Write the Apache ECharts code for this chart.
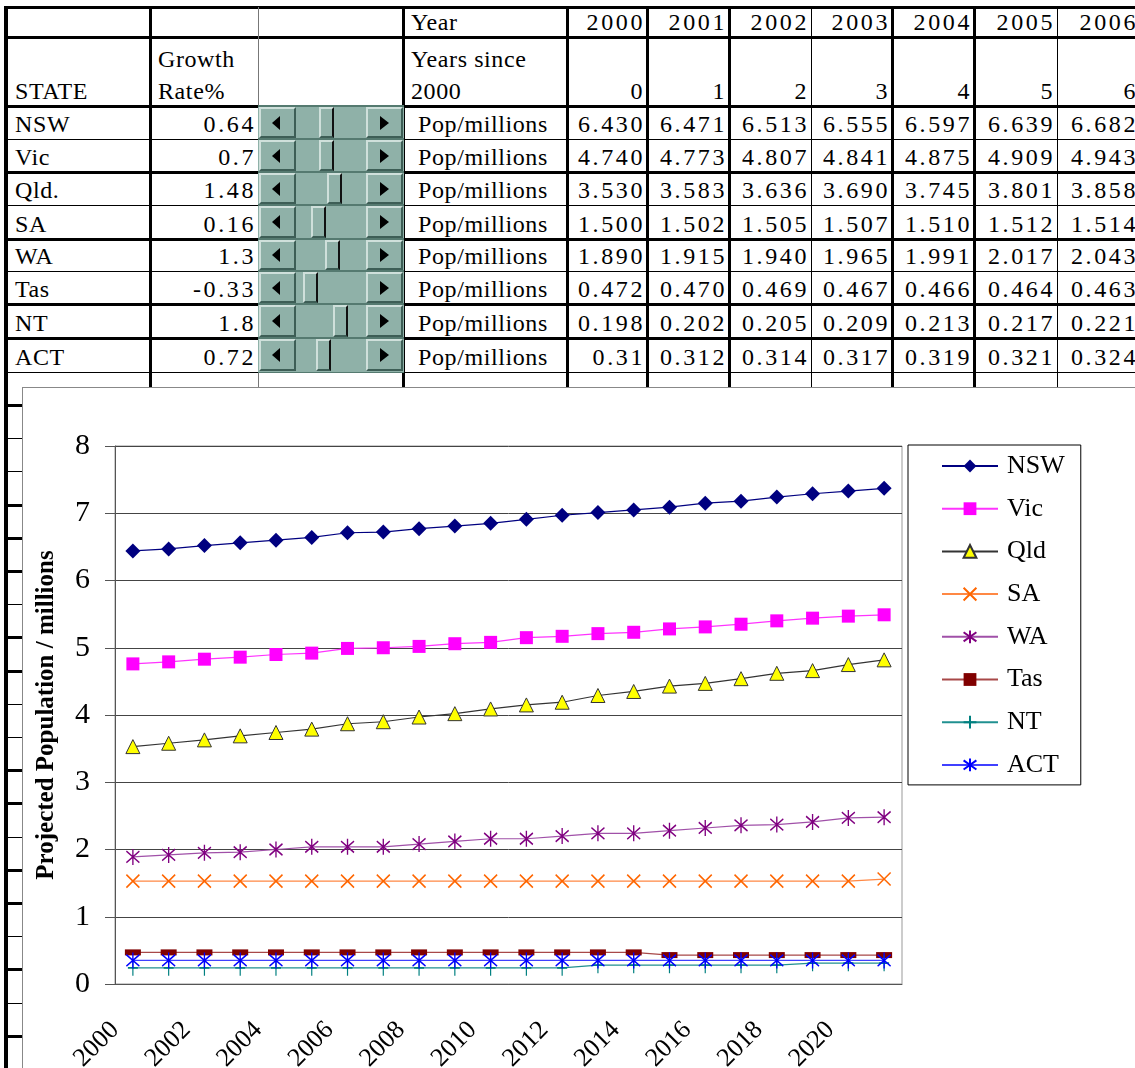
<!DOCTYPE html>
<html>
<head>
<meta charset="utf-8">
<script src="https://cdn.jsdelivr.net/npm/echarts@6/dist/echarts.min.js"></script>
<style>
body{margin:0;width:1135px;height:1068px;overflow:hidden;background:#fff;position:relative;font-family:'Liberation Serif','Times New Roman',serif;color:#000}
#sheet{position:absolute;left:0;top:0;width:1135px;height:1068px;overflow:hidden}
.ln{position:absolute;background:#000}
.cell{position:absolute;display:flex;align-items:flex-end;white-space:nowrap;line-height:24px;box-sizing:border-box;font-family:'Liberation Serif','Times New Roman',serif;font-size:24px;padding-bottom:3px}
.num{justify-content:flex-end;padding-right:2px;letter-spacing:2.6px}
.txt{padding-left:8px;letter-spacing:0.6px}
.sbx{position:absolute;box-sizing:border-box}
#chart{position:absolute;left:22px;top:387px;width:1140px;height:700px;border:1px solid #888;background:#fff}
</style>
</head>
<body>
<div id="sheet"></div>
<div id="chart"></div>
<script>
// ---- spreadsheet part ----
const states = ['NSW', 'Vic', 'Qld.', 'SA', 'WA', 'Tas', 'NT', 'ACT'];
const growthRate = ['0.64', '0.7', '1.48', '0.16', '1.3', '-0.33', '1.8', '0.72'];
const tableYears = ['2000', '2001', '2002', '2003', '2004', '2005', '2006'];
const yearsSince = ['0', '1', '2', '3', '4', '5', '6'];
const tablePop = [
  ['6.430', '6.471', '6.513', '6.555', '6.597', '6.639', '6.682'],
  ['4.740', '4.773', '4.807', '4.841', '4.875', '4.909', '4.943'],
  ['3.530', '3.583', '3.636', '3.690', '3.745', '3.801', '3.858'],
  ['1.500', '1.502', '1.505', '1.507', '1.510', '1.512', '1.514'],
  ['1.890', '1.915', '1.940', '1.965', '1.991', '2.017', '2.043'],
  ['0.472', '0.470', '0.469', '0.467', '0.466', '0.464', '0.463'],
  ['0.198', '0.202', '0.205', '0.209', '0.213', '0.217', '0.221'],
  ['0.31', '0.312', '0.314', '0.317', '0.319', '0.321', '0.324']
];

// ---- chart part ----
const years = ['2000', '2001', '2002', '2003', '2004', '2005', '2006', '2007', '2008', '2009', '2010',
  '2011', '2012', '2013', '2014', '2015', '2016', '2017', '2018', '2019', '2020', '2021'];
const yearTickLabels = ['2000', '', '2002', '', '2004', '', '2006', '', '2008', '', '2010', '',
  '2012', '', '2014', '', '2016', '', '2018', '', '2020', '', ''];
const nsw = [6.44, 6.47, 6.52, 6.56, 6.60, 6.64, 6.71, 6.72, 6.77, 6.81, 6.85, 6.91, 6.97, 7.01, 7.05, 7.09, 7.15, 7.18, 7.24, 7.29, 7.33, 7.37];
const vic = [4.76, 4.79, 4.83, 4.86, 4.90, 4.92, 4.99, 5.00, 5.02, 5.06, 5.08, 5.15, 5.17, 5.21, 5.23, 5.28, 5.31, 5.35, 5.40, 5.44, 5.47, 5.49];
const qld = [3.53, 3.58, 3.63, 3.69, 3.74, 3.79, 3.87, 3.90, 3.97, 4.02, 4.09, 4.15, 4.19, 4.29, 4.35, 4.43, 4.47, 4.54, 4.62, 4.66, 4.75, 4.82];
const sa = [1.53, 1.53, 1.53, 1.53, 1.53, 1.53, 1.53, 1.53, 1.53, 1.53, 1.53, 1.53, 1.53, 1.53, 1.53, 1.53, 1.53, 1.53, 1.53, 1.53, 1.53, 1.56];
const wa = [1.89, 1.92, 1.95, 1.96, 2.00, 2.04, 2.04, 2.04, 2.08, 2.12, 2.16, 2.16, 2.20, 2.24, 2.24, 2.28, 2.32, 2.36, 2.37, 2.41, 2.47, 2.48];
const tas = [0.47, 0.47, 0.47, 0.47, 0.47, 0.47, 0.47, 0.47, 0.47, 0.47, 0.47, 0.47, 0.47, 0.47, 0.47, 0.43, 0.43, 0.43, 0.43, 0.43, 0.43, 0.43];
const nt = [0.24, 0.24, 0.24, 0.24, 0.24, 0.24, 0.24, 0.24, 0.24, 0.24, 0.24, 0.24, 0.24, 0.28, 0.28, 0.28, 0.28, 0.28, 0.28, 0.31, 0.31, 0.31];
const act = [0.35, 0.35, 0.35, 0.35, 0.35, 0.35, 0.35, 0.35, 0.35, 0.35, 0.35, 0.35, 0.35, 0.35, 0.35, 0.35, 0.35, 0.35, 0.35, 0.35, 0.35, 0.35];

const sheet = document.getElementById('sheet');

// grid geometry of the sheet
const colX = [7, 150, 258, 403, 567, 647, 729, 811, 892, 974, 1057, 1140];
const colW = [3, 3, 1, 3, 3, 3, 3, 1, 3, 3, 1];
const rowY = [7, 37, 106, 139, 172, 205, 239, 271, 304, 338, 372, 405, 438, 471, 505, 538, 571, 604, 637, 671,
  704, 737, 770, 803, 837, 870, 903, 936, 969, 1003, 1036];
const rowW = [3, 3, 3, 1, 3, 1, 3, 1, 3, 3, 1, 3, 1, 1, 3, 3, 3, 1, 3, 3, 1, 1, 3, 3, 1, 3, 3, 1, 3, 1, 3];

function line(x, y, w, h, color) {
  const d = document.createElement('div');
  d.className = 'ln';
  d.style.left = x + 'px'; d.style.top = y + 'px';
  d.style.width = w + 'px'; d.style.height = h + 'px';
  if (color) d.style.background = color;
  sheet.appendChild(d);
}
function cell(x0, x1, y0, y1, text, cls) {
  const d = document.createElement('div');
  d.className = 'cell ' + cls;
  d.style.left = x0 + 'px'; d.style.top = y0 + 'px';
  d.style.width = (x1 - x0) + 'px'; d.style.height = (y1 - y0) + 'px';
  d.textContent = text;
  sheet.appendChild(d);
}

rowY.forEach((y, i) => line(4, y - Math.floor(rowW[i] / 2), 1136, rowW[i]));
colX.forEach((x, i) => {
  if (i === 0) line(4, 7, 4, 1061);
  else line(x - Math.floor(colW[i] / 2), 7, colW[i], 395, colW[i] === 1 && i === 2 ? '#777' : null);
});

// header rows
cell(colX[3], colX[4], rowY[0], rowY[1], 'Year', 'txt');
tableYears.forEach((t, j) => cell(colX[4 + j], colX[5 + j], rowY[0], rowY[1], t, 'num'));
cell(colX[0], colX[1], rowY[1], rowY[2], 'STATE', 'txt');
cell(colX[1], colX[2], rowY[1], rowY[2] - 32, 'Growth', 'txt');
cell(colX[1], colX[2], rowY[1], rowY[2], 'Rate%', 'txt');
cell(colX[3], colX[4], rowY[1], rowY[2] - 32, 'Years since', 'txt');
cell(colX[3], colX[4], rowY[1], rowY[2], '2000', 'txt');
yearsSince.forEach((t, j) => cell(colX[4 + j], colX[5 + j], rowY[1], rowY[2], t, 'num'));

// state rows
states.forEach((s, i) => {
  const y0 = rowY[2 + i], y1 = rowY[3 + i];
  cell(colX[0], colX[1], y0, y1, s, 'txt');
  cell(colX[1], colX[2], y0, y1, growthRate[i], 'num');
  cell(colX[3] + 7, colX[4], y0, y1, 'Pop/millions', 'txt');
  tablePop[i].forEach((v, j) => cell(colX[4 + j], colX[5 + j], y0, y1, v, 'num'));
});

// scroll bar controls in the third column
const thumbX = [319, 319, 327, 311, 325, 303, 333, 316];
function box(x, y, w, h, css) {
  const d = document.createElement('div');
  d.className = 'sbx';
  d.style.left = x + 'px'; d.style.top = y + 'px';
  d.style.width = w + 'px'; d.style.height = h + 'px';
  d.style.cssText += css;
  sheet.appendChild(d);
  return d;
}
const bevel = 'background:#8fb1a8;border-top:2px solid #cfe0db;border-left:2px solid #cfe0db;border-bottom:2px solid #3d5e56;border-right:2px solid #3d5e56;';
states.forEach((s, i) => {
  const y0 = rowY[2 + i] - 1, h = rowY[3 + i] - rowY[2 + i] + 2;
  box(258, y0, 146, h, 'background:#8fb1a8;border-top:2px solid #557a70;border-bottom:1px solid #557a70;');
  box(259, y0 + 2, 37, h - 4, bevel);
  box(366, y0 + 2, 37, h - 4, bevel);
  box(thumbX[i], y0 + 2, 15, h - 4, bevel + 'border-right:2px solid #111;');
  const cy = y0 + h / 2;
  box(272, cy - 7, 0, 0, 'border-top:7px solid transparent;border-bottom:7px solid transparent;border-right:8px solid #000;');
  box(380, cy - 7, 0, 0, 'border-top:7px solid transparent;border-bottom:7px solid transparent;border-left:9px solid #000;');
});

// ---- the chart ----
const serif = "'Liberation Serif', 'Times New Roman', serif";
const sym = {
  cross: 'path://M0,0L10,10M10,0L0,10',
  star: 'path://M0,1L10,11M10,1L0,11M5,-1L5,13',
  plus: 'path://M5,0L5,16M0,8L10,8'
};

function series(name, data, color, lineColor, symbol, size, border) {
  return {
    name: name,
    type: 'line',
    data: data,
    xAxisIndex: 0,
    symbol: symbol,
    symbolSize: size,
    showSymbol: true,
    lineStyle: { color: lineColor, width: 1.2 },
    itemStyle: { color: color, borderColor: border || color, borderWidth: border ? 1 : (symbol.indexOf('path') === 0 ? 1.5 : 0) },
    emphasis: { disabled: true }
  };
}

const chart = echarts.init(document.getElementById('chart'));
chart.setOption({
  animation: false,
  textStyle: { fontFamily: serif, color: '#000' },
  grid: { left: 92, top: 58, width: 787, height: 538, show: true, borderColor: '#999', borderWidth: 1 },
  legend: {
    orient: 'vertical',
    left: 885,
    top: 57,
    padding: [8, 16, 7, 33],
    itemWidth: 56,
    itemHeight: 16,
    itemGap: 16.7,
    borderColor: '#000',
    borderWidth: 1,
    textStyle: { fontSize: 26, lineHeight: 26, fontFamily: serif, color: '#000', padding: [0, 0, 0, 4] },
    data: ['NSW', 'Vic', 'Qld', 'SA', 'WA', 'Tas', 'NT', 'ACT']
  },
  xAxis: [
    {
      type: 'category',
      data: years,
      boundaryGap: true,
      axisLine: { lineStyle: { color: '#555', width: 1 } },
      axisTick: { interval: 0, length: 9, lineStyle: { color: '#555' } },
      axisLabel: { show: false },
      splitLine: { show: false }
    },
    {
      type: 'category',
      data: yearTickLabels,
      boundaryGap: false,
      position: 'bottom',
      axisLine: { show: false },
      axisTick: { show: false },
      axisLabel: { interval: 0, rotate: 45, fontSize: 26, margin: 42, color: '#000', fontFamily: serif }
    }
  ],
  yAxis: {
    type: 'value',
    min: 0,
    max: 8,
    interval: 1,
    axisLine: { show: true, lineStyle: { color: '#555' } },
    axisTick: { show: true, length: 10, lineStyle: { color: '#555' } },
    splitLine: { lineStyle: { color: '#444', width: 1 } },
    axisLabel: { fontSize: 30, margin: 25, color: '#000', fontFamily: serif },
    name: 'Projected Population / millions',
    nameLocation: 'middle',
    nameGap: 56,
    nameTextStyle: { fontSize: 25, fontWeight: 'bold', color: '#000', fontFamily: serif }
  },
  series: [
    series('NSW', nsw, '#000080', '#000080', 'diamond', 15),
    series('Vic', vic, '#ff00ff', '#ff33ff', 'rect', 13),
    series('Qld', qld, '#ffff00', '#333333', 'triangle', 14, '#333333'),
    series('SA', sa, '#ff6600', '#ff8844', sym.cross, 13),
    series('WA', wa, '#800080', '#a050a8', sym.star, [13, 16]),
    series('Tas', tas, '#800000', '#a84848', 'rect', [16, 6]),
    series('NT', nt, '#008080', '#209090', sym.plus, [10, 16]),
    series('ACT', act, '#0000ff', '#4040ff', sym.star, [13, 16])
  ]
});
</script>
</body>
</html>
